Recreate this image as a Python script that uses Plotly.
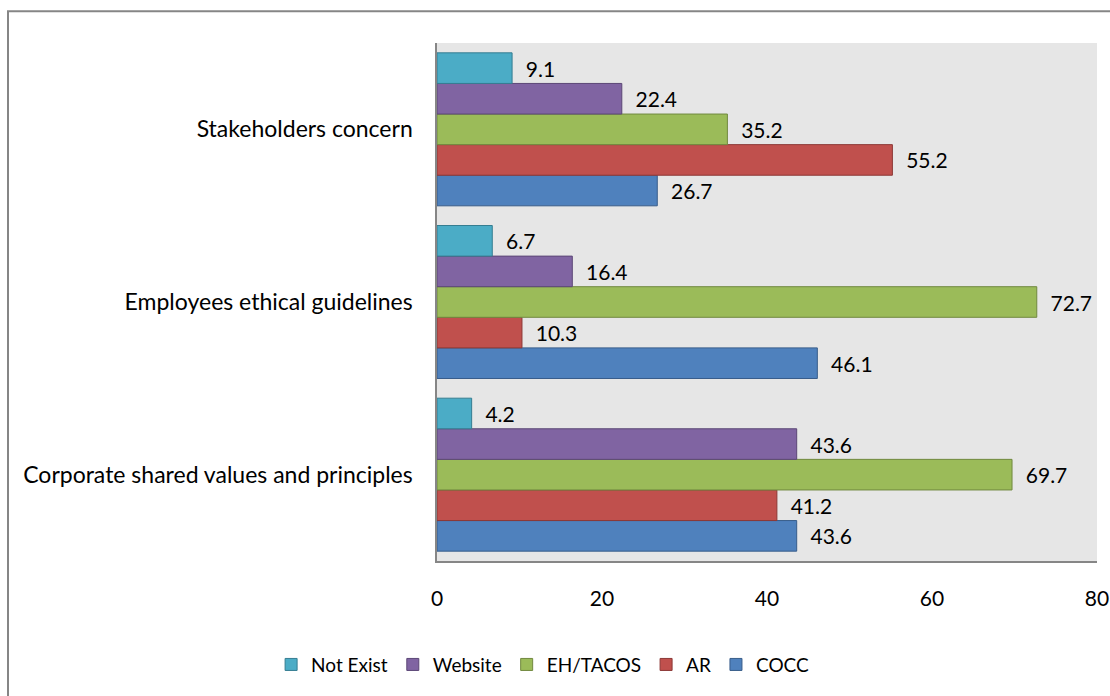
import plotly.graph_objects as go

categories = ["Corporate shared values and principles", "Employees ethical guidelines", "Stakeholders concern"]
series_names = ["COCC", "AR", "EH/TACOS", "Website", "Not Exist"]
cocc = [43.6, 46.1, 26.7]
ar = [41.2, 10.3, 55.2]
eh_tacos = [69.7, 72.7, 35.2]
website = [43.6, 16.4, 22.4]
not_exist = [4.2, 6.7, 9.1]
x_ticks = [0, 20, 40, 60, 80]

series_values = [cocc, ar, eh_tacos, website, not_exist]
fills = ["#4F81BD", "#C0504D", "#9BBB59", "#8064A2", "#4BACC6"]
edges = ["#385D8A", "#8C3836", "#71893F", "#5C4776", "#357D91"]

FONT = "Lato"
NB = "\u00a0"
fig = go.Figure()
for name, vals, fc, ec in zip(series_names, series_values, fills, edges):
    fig.add_trace(go.Bar(
        y=categories, x=vals, name=name, orientation="h",
        marker=dict(color=fc, line=dict(color=ec, width=1)),
        text=vals, texttemplate=NB * 2 + "%{x:.1f}", textposition="outside",
        textfont=dict(size=21, color="#000000", family=FONT),
        cliponaxis=False,
    ))

fig.update_layout(
    width=1110, height=696,
    barmode="group", bargap=0.114, bargroupgap=0,
    plot_bgcolor="#E6E6E6", paper_bgcolor="#FFFFFF",
    margin=dict(l=437, r=13, t=43, b=129),
    font=dict(family=FONT, size=21, color="#000000"),
    uniformtext=dict(minsize=21, mode="show"),
    xaxis=dict(range=[0, 80], tickvals=x_ticks, showgrid=False, zeroline=False,
               showline=True, linecolor="#868686", linewidth=2, automargin=False,
               ticks="outside", ticklen=18, tickcolor="rgba(0,0,0,0)", tickfont=dict(size=21)),
    yaxis=dict(showgrid=False, zeroline=False, showline=True, linecolor="#868686",
               linewidth=2, ticks="", tickfont=dict(size=23), ticksuffix=NB * 3, automargin=False),
    legend=dict(orientation="h", traceorder="reversed", x=0.16, xanchor="center",
                y=-0.2, yanchor="middle", font=dict(size=19)),
    showlegend=True,
    shapes=[dict(type="rect", xref="paper", yref="paper",
                 x0=(8 - 437) / 660, x1=(1140 - 437) / 660,
                 y0=(567 - 730) / 524, y1=(567 - 11) / 524,
                 line=dict(color="#868686", width=2), fillcolor="rgba(0,0,0,0)", layer="below")],
)
fig.write_html("out.html")
